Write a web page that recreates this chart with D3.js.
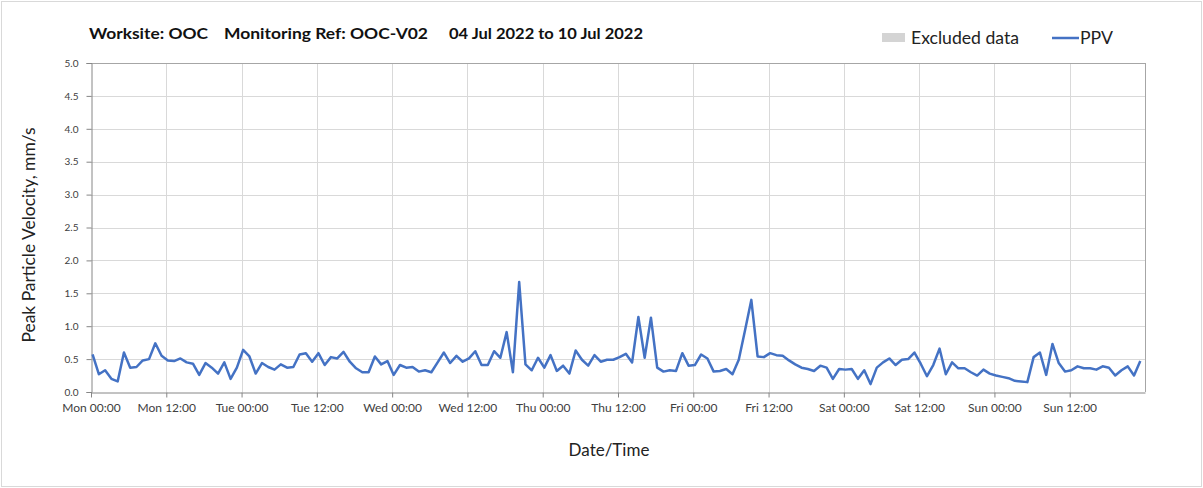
<!DOCTYPE html>
<html>
<head>
<meta charset="utf-8">
<script src="https://cdn.jsdelivr.net/npm/d3@7"></script>
<style>
  html, body { margin: 0; padding: 0; background: #fff; }
  svg { display: block; font-family: Lato, "Open Sans", sans-serif; }
</style>
</head>
<body>
<svg id="chart" width="1203" height="488"></svg>
<script>
// ---- Data ----
const titleParts = ["Worksite: OOC", "Monitoring Ref: OOC-V02", "04 Jul 2022 to 10 Jul 2022"];
const seriesName = "PPV";
const excludedName = "Excluded data";
const yAxisTitle = "Peak Particle Velocity, mm/s";
const xAxisTitle = "Date/Time";
const startTime = "2022-07-04T00:00:00";
const endTime = "2022-07-11T00:00:00";
const firstSampleOffsetMin = 15;   // first reading at 00:15, then hourly
const yTicks = [0, 0.5, 1, 1.5, 2, 2.5, 3, 3.5, 4, 4.5, 5];
// hourly PPV readings (mm/s), Mon 00:15 .. Sun 23:15
const ppv = [
  0.57,0.27,0.33,0.20,0.16,0.60,0.37,0.38,0.48,0.50,0.74,0.55,
  0.48,0.47,0.51,0.45,0.43,0.26,0.44,0.37,0.28,0.45,0.20,0.37,
  0.64,0.54,0.28,0.44,0.38,0.34,0.42,0.37,0.38,0.57,0.59,0.46,
  0.59,0.41,0.53,0.51,0.61,0.46,0.36,0.30,0.30,0.54,0.42,0.47,
  0.26,0.41,0.37,0.38,0.31,0.33,0.30,0.45,0.60,0.44,0.55,0.46,
  0.51,0.62,0.41,0.41,0.62,0.52,0.91,0.30,1.67,0.42,0.33,0.52,
  0.37,0.56,0.32,0.40,0.28,0.63,0.49,0.40,0.56,0.46,0.49,0.49,
  0.53,0.58,0.45,1.14,0.52,1.13,0.37,0.31,0.33,0.32,0.59,0.40,
  0.41,0.57,0.51,0.31,0.32,0.35,0.27,0.49,0.94,1.40,0.54,0.53,
  0.59,0.56,0.55,0.48,0.42,0.37,0.35,0.32,0.40,0.37,0.20,0.35,
  0.34,0.35,0.20,0.33,0.12,0.37,0.45,0.51,0.41,0.49,0.50,0.60,
  0.43,0.24,0.41,0.66,0.27,0.45,0.36,0.36,0.30,0.25,0.34,0.28,
  0.25,0.23,0.21,0.17,0.16,0.15,0.53,0.60,0.26,0.73,0.44,0.31,
  0.33,0.39,0.36,0.36,0.34,0.39,0.37,0.25,0.33,0.39,0.25,0.47
];

// ---- Layout ----
const W = 1203, H = 488;
const plot = { left: 91, right: 1145, top: 63, bottom: 392 };
const svg = d3.select("#chart");

// outer border
svg.append("rect").attr("x", 1.5).attr("y", 1.5).attr("width", W - 3).attr("height", H - 3)
  .attr("fill", "#fff").attr("stroke", "#d9d9d9").attr("stroke-width", 1);

const t0 = new Date(startTime), t1 = new Date(endTime);
const x = d3.scaleTime().domain([t0, t1]).range([plot.left, plot.right]);
const y = d3.scaleLinear().domain([0, 5]).range([plot.bottom, plot.top]);

const data = ppv.map((v, i) => ({
  t: new Date(t0.getTime() + (firstSampleOffsetMin + i * 60) * 60000),
  v
}));

const xTickVals = d3.timeHour.every(12).range(t0, t1);
const fmt = d3.timeFormat("%a %H:%M");

// gridlines
const grid = svg.append("g");
grid.selectAll("line.h").data(yTicks.filter(d => d > 0)).join("line")
  .attr("x1", plot.left).attr("x2", plot.right)
  .attr("y1", d => Math.round(y(d)) + 0.5).attr("y2", d => Math.round(y(d)) + 0.5)
  .attr("stroke", "#d9d9d9").attr("stroke-width", 1);
grid.selectAll("line.v").data(xTickVals.slice(1)).join("line")
  .attr("y1", plot.top).attr("y2", plot.bottom)
  .attr("x1", d => Math.round(x(d)) + 0.5).attr("x2", d => Math.round(x(d)) + 0.5)
  .attr("stroke", "#d9d9d9").attr("stroke-width", 1);

// plot frame right / top
svg.append("line").attr("x1", plot.right + 0.5).attr("x2", plot.right + 0.5)
  .attr("y1", plot.top).attr("y2", plot.bottom).attr("stroke", "#a6a6a6");
svg.append("line").attr("x1", plot.left).attr("x2", plot.right)
  .attr("y1", plot.top + 0.5).attr("y2", plot.top + 0.5).attr("stroke", "#a6a6a6");

// y axis
const yAxis = svg.append("g").attr("transform", `translate(${plot.left + 0.5},0)`)
  .call(d3.axisLeft(y).tickValues(yTicks).tickFormat(d3.format(".1f")).tickSize(5).tickPadding(8));
yAxis.select(".domain").attr("stroke", "#868686");
yAxis.selectAll(".tick line").attr("stroke", "#868686");
yAxis.selectAll(".tick text").attr("font-size", 10).attr("fill", "#404040")
  .attr("font-family", "Lato, sans-serif");

// x axis
const xAxis = svg.append("g").attr("transform", `translate(0,${plot.bottom + 0.5})`)
  .call(d3.axisBottom(x).tickValues(xTickVals).tickFormat(fmt).tickSize(5).tickPadding(6).tickSizeOuter(0));
xAxis.select(".domain").attr("stroke", "#868686");
xAxis.selectAll(".tick line").attr("stroke", "#868686");
xAxis.selectAll(".tick text").attr("font-size", 12).attr("fill", "#404040")
  .attr("font-family", "Lato, sans-serif");

// series line
svg.append("path").datum(data)
  .attr("fill", "none").attr("stroke", "#4472c4").attr("stroke-width", 2.5)
  .attr("stroke-linejoin", "round")
  .attr("d", d3.line().x(d => x(d.t)).y(d => y(d.v)));

// title
const titleX = [89, 224, 449];
const titleW = [119, 204, 194];
svg.append("g").selectAll("text").data(titleParts).join("text")
  .attr("x", (d, i) => titleX[i]).attr("y", 39)
  .attr("font-size", 15).attr("font-weight", "bold").attr("fill", "#111")
  .attr("textLength", (d, i) => titleW[i]).attr("lengthAdjust", "spacingAndGlyphs")
  .text(d => d);

// legend
svg.append("rect").attr("x", 882).attr("y", 33).attr("width", 23).attr("height", 9).attr("fill", "#d4d4d4");
svg.append("text").attr("x", 911).attr("y", 44).attr("font-size", 17).attr("fill", "#222")
  .attr("textLength", 108).attr("lengthAdjust", "spacingAndGlyphs").text(excludedName);
svg.append("line").attr("x1", 1052).attr("x2", 1079).attr("y1", 38).attr("y2", 38)
  .attr("stroke", "#4472c4").attr("stroke-width", 2.5);
svg.append("text").attr("x", 1080).attr("y", 44).attr("font-size", 17).attr("fill", "#222")
  .attr("textLength", 33).attr("lengthAdjust", "spacingAndGlyphs").text(seriesName);

// axis titles
svg.append("text").attr("transform", `translate(35,235) rotate(-90)`)
  .attr("text-anchor", "middle").attr("font-size", 16.5).attr("fill", "#222")
  .attr("textLength", 215).attr("lengthAdjust", "spacingAndGlyphs").text(yAxisTitle);
svg.append("text").attr("x", 609).attr("y", 456).attr("text-anchor", "middle")
  .attr("font-size", 17).attr("fill", "#222").text(xAxisTitle);
</script>
</body>
</html>
